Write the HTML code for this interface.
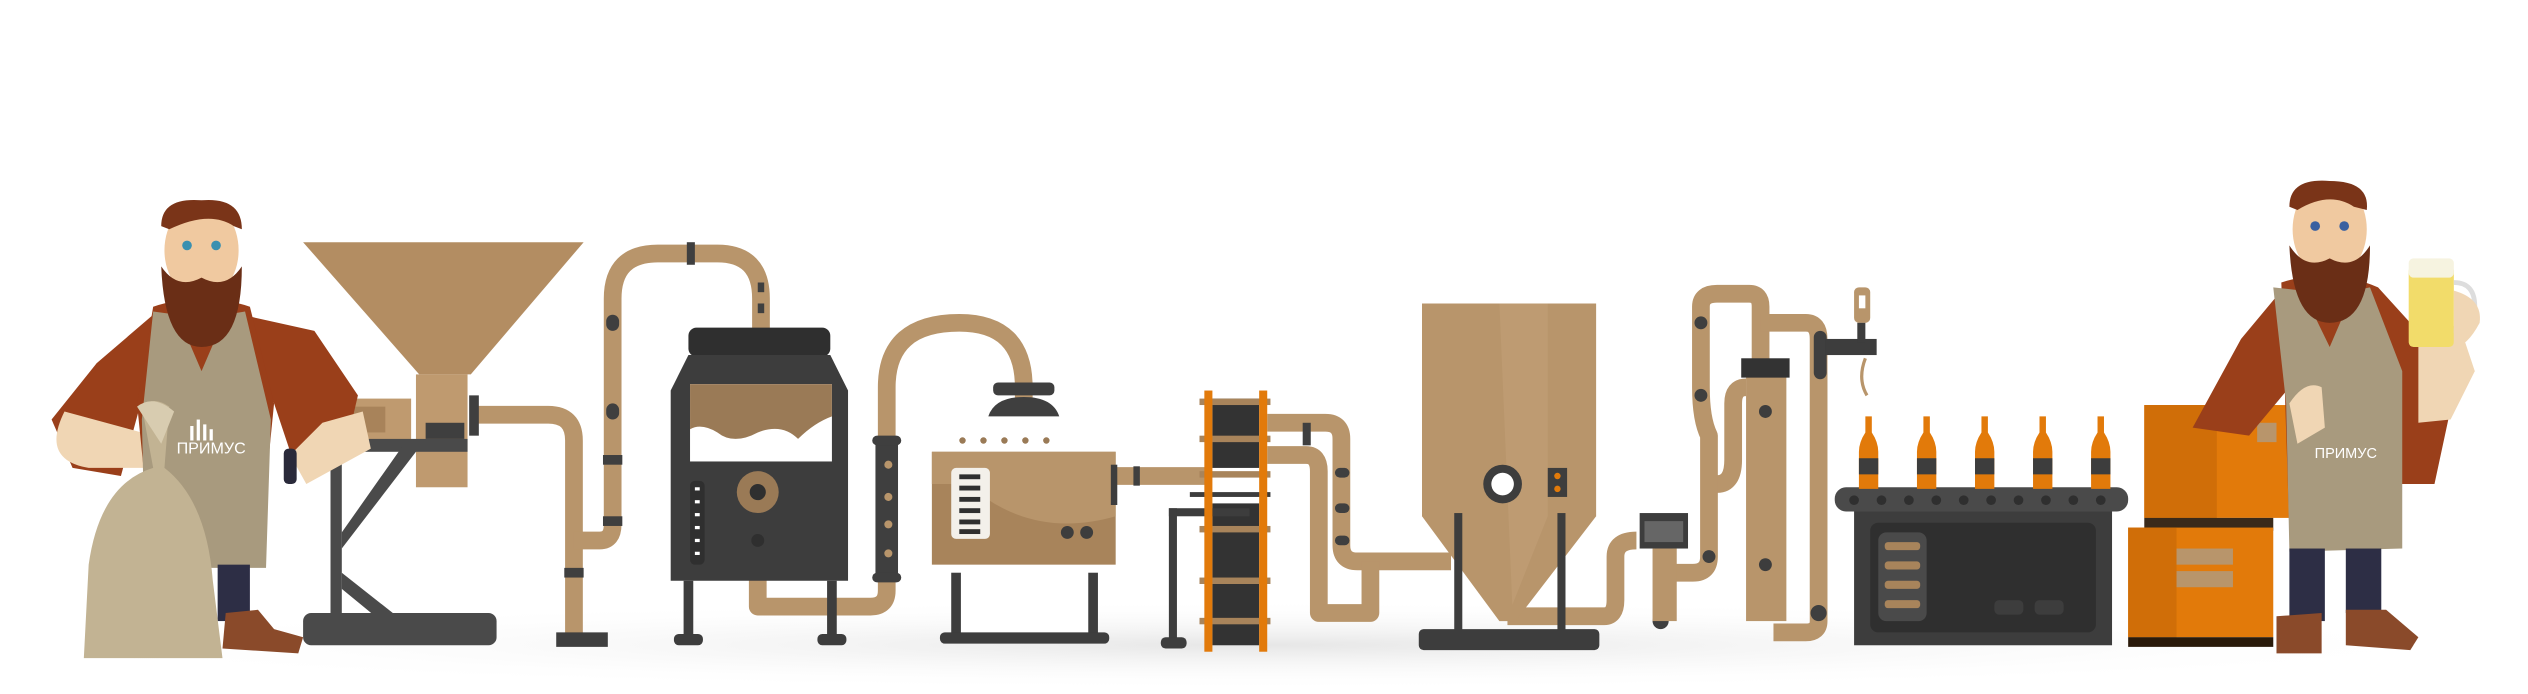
<!DOCTYPE html>
<html><head><meta charset="utf-8"><style>
html,body{margin:0;padding:0;background:#fff;width:2528px;height:694px;overflow:hidden}
svg{display:block}
</style></head><body>
<svg width="2528" height="694" viewBox="0 0 1568 430" xmlns="http://www.w3.org/2000/svg" font-family="Liberation Sans, DejaVu Sans, sans-serif">
<defs>
<radialGradient id="sh" cx="50%" cy="50%" r="50%"><stop offset="0" stop-color="#e6e6e6"/><stop offset="1" stop-color="#fff" stop-opacity="0"/></radialGradient>
</defs>
<ellipse cx="780" cy="400" rx="780" ry="28" fill="url(#sh)"/>
<g fill="none" stroke="#b8956b" stroke-width="11" stroke-linejoin="round">
<path d="M292 257 H340 Q356 257 356 273 V395"/>
<path d="M356 335 H372 Q380 335 380 325 V185 Q380 157 408 157 H445 Q472 157 472 185 V210"/>
<path d="M470 358 V376 H540 Q550 376 550 366 V240 Q550 200 595 200 Q635 200 635 240 V250"/>
<path d="M690 295 H748"/>
<path d="M786 262 H822 Q832 262 832 272 V338 Q832 348 842 348 H900"/>
<path d="M786 282 H810 Q818 282 818 292 V380 H850 V348"/>
<path d="M935 382 H995 Q1002 382 1002 372 V345 Q1002 335 1015 335"/>
<path d="M1032 340 V355 H1050 Q1060 355 1060 345 V270 Q1055 260 1055 240 V190 Q1055 182 1065 182 H1085 Q1092 182 1092 190 V225"/>
<path d="M1092 200 H1120 Q1128 200 1128 210 V385 Q1128 392 1120 392 H1100"/>
<path d="M1065 300 Q1075 300 1075 285 V250 Q1075 240 1083 240"/>
</g>
<g fill="#3f3f3f">
<rect x="426" y="150" width="5" height="14"/><rect x="376" y="195" width="8" height="10" rx="4"/><rect x="376" y="250" width="8" height="10" rx="4"/>
<rect x="374" y="282" width="12" height="6"/><rect x="374" y="320" width="12" height="6"/><rect x="350" y="352" width="12" height="6"/>
<rect x="470" y="175" width="4" height="6"/><rect x="470" y="188" width="4" height="6"/>
<rect x="345" y="392" width="32" height="9"/>
<rect x="616" y="237" width="38" height="8" rx="3"/><path d="M613 258 Q617 246 635 246 Q653 246 657 258 Z"/>
<rect x="543" y="275" width="14" height="82"/>
<rect x="541" y="270" width="18" height="6" rx="3"/><rect x="541" y="355" width="18" height="6" rx="3"/>
<rect x="703" y="289" width="4" height="12"/>
<rect x="828" y="290" width="9" height="6" rx="3"/><rect x="828" y="312" width="9" height="6" rx="3"/><rect x="828" y="332" width="9" height="6" rx="3"/>
<rect x="808" y="262" width="5" height="14"/>
<circle cx="1055" cy="200" r="4"/><circle cx="1055" cy="245" r="4"/><circle cx="1060" cy="345" r="4"/><circle cx="1092" cy="350" r="4"/><circle cx="1092" cy="255" r="4"/><circle cx="1128" cy="380" r="5"/><circle cx="1030" cy="385" r="5"/>
<rect x="1125" y="205" width="8" height="30" rx="4"/>
</g>
<g fill="#b8956b"><circle cx="551" cy="288" r="2.5"/><circle cx="551" cy="308" r="2.5"/><circle cx="551" cy="325" r="2.5"/><circle cx="551" cy="343" r="2.5"/></g>

<polygon points="188,150 362,150 292,232 260,232" fill="#b38d62"/>
<rect x="258" y="232" width="32" height="70" fill="#bf9a6f"/>
<rect x="205" y="247" width="50" height="26" fill="#bf9a6f"/><rect x="215" y="252" width="24" height="16" fill="#a8835a"/>
<rect x="291" y="245" width="6" height="25" fill="#3f3f3f"/>
<rect x="264" y="262" width="24" height="10" fill="#3f3f3f"/>
<g fill="#4a4a4a"><rect x="205" y="272" width="85" height="8"/><rect x="205" y="272" width="7" height="118"/>
<polygon points="212,330 250,276 258,280 212,340"/><polygon points="212,355 250,385 240,388 212,365"/>
<rect x="188" y="380" width="120" height="20" rx="5"/></g>

<rect x="427" y="203" width="88" height="18" rx="5" fill="#2f2f2f"/>
<path d="M427 220 H515 L526 242 V360 H416 V242 Z" fill="#3d3d3d"/>
<rect x="428" y="238" width="88" height="48" fill="#fff"/>
<path d="M428 238 H516 V258 Q505 262 495 272 Q485 262 470 268 Q455 276 445 268 Q435 262 428 266 Z" fill="#9a7a56"/>
<circle cx="470" cy="305" r="13" fill="#9a7a56"/><circle cx="470" cy="305" r="5" fill="#2f2f2f"/>
<circle cx="470" cy="335" r="4" fill="#2f2f2f"/>
<rect x="428" y="298" width="9" height="52" rx="3" fill="#2f2f2f"/>
<g fill="#fff"><rect x="431" y="302" width="3" height="2"/><rect x="431" y="310" width="3" height="2"/><rect x="431" y="318" width="3" height="2"/><rect x="431" y="326" width="3" height="2"/><rect x="431" y="334" width="3" height="2"/><rect x="431" y="342" width="3" height="2"/></g>
<g fill="#3d3d3d"><rect x="424" y="360" width="6" height="35"/><rect x="513" y="360" width="6" height="35"/><rect x="418" y="393" width="18" height="7" rx="3"/><rect x="507" y="393" width="18" height="7" rx="3"/></g>

<path d="M590 350 H680 V392 H590 Z" fill="#fff"/>
<rect x="578" y="280" width="114" height="70" fill="#a8845b"/>
<path d="M578 280 H692 V320 Q640 335 600 300 L578 300 Z" fill="#b8956b"/>
<rect x="590" y="290" width="24" height="44" rx="3" fill="#f3f0ea"/>
<g fill="#2f2f2f"><rect x="595" y="294" width="13" height="3"/><rect x="595" y="301" width="13" height="3"/><rect x="595" y="308" width="13" height="3"/><rect x="595" y="315" width="13" height="3"/><rect x="595" y="322" width="13" height="3"/><rect x="595" y="328" width="13" height="3"/></g>
<circle cx="662" cy="330" r="4" fill="#3d3d3d"/><circle cx="674" cy="330" r="4" fill="#3d3d3d"/>
<g fill="#9a7a56"><circle cx="597" cy="273" r="2"/><circle cx="610" cy="273" r="2"/><circle cx="623" cy="273" r="2"/><circle cx="636" cy="273" r="2"/><circle cx="649" cy="273" r="2"/></g>
<rect x="689" y="288" width="4" height="25" fill="#3d3d3d"/>
<g fill="#3d3d3d"><rect x="590" y="355" width="6" height="40"/><rect x="675" y="355" width="6" height="40"/><rect x="583" y="392" width="105" height="7" rx="3"/></g>

<rect x="752" y="247" width="29" height="43" fill="#333"/>
<rect x="752" y="312" width="29" height="88" fill="#333"/>
<g fill="#3d3d3d"><rect x="725" y="315" width="50" height="5"/><rect x="725" y="315" width="5" height="85"/><rect x="720" y="395" width="16" height="7" rx="3"/></g>
<rect x="738" y="305" width="50" height="3" fill="#3d3d3d"/>
<g fill="#a8845b"><rect x="744" y="247" width="44" height="4"/><rect x="744" y="270" width="44" height="4"/><rect x="744" y="292" width="44" height="4"/><rect x="744" y="326" width="44" height="4"/><rect x="744" y="358" width="44" height="4"/><rect x="744" y="383" width="44" height="4"/></g>
<rect x="747" y="242" width="5" height="162" fill="#e27a0a"/><rect x="781" y="242" width="5" height="162" fill="#e27a0a"/>

<path d="M882 188 H990 V320 L940 385 H930 L882 320 Z" fill="#b8956b"/>
<path d="M930 188 H960 V320 L938 375 Z" fill="#c4a27a" opacity=".5"/>
<circle cx="932" cy="300" r="12" fill="#3d3d3d"/><circle cx="932" cy="300" r="7" fill="#fff"/>
<rect x="960" y="290" width="12" height="18" fill="#3d3d3d"/><circle cx="966" cy="295" r="2" fill="#e27a0a"/><circle cx="966" cy="303" r="2" fill="#e27a0a"/>
<g fill="#3d3d3d"><rect x="902" y="318" width="5" height="75"/><rect x="966" y="318" width="5" height="75"/><rect x="880" y="390" width="112" height="13" rx="3"/></g>

<rect x="1017" y="318" width="30" height="22" fill="#3d3d3d"/><rect x="1020" y="323" width="24" height="13" fill="#666"/>
<rect x="1025" y="340" width="15" height="45" fill="#b8956b"/>
<rect x="1083" y="228" width="25" height="157" fill="#b8956b"/>
<rect x="1080" y="222" width="30" height="12" fill="#333"/>
<circle cx="1095" cy="255" r="4" fill="#3d3d3d"/><circle cx="1095" cy="350" r="4" fill="#3d3d3d"/>
<rect x="1150" y="178" width="10" height="22" rx="3" fill="#b8956b"/><rect x="1153" y="183" width="4" height="8" fill="#fff"/>
<rect x="1132" y="210" width="32" height="10" fill="#3d3d3d"/><rect x="1152" y="200" width="5" height="12" fill="#3d3d3d"/>
<path d="M1157 222 Q1152 235 1158 245" stroke="#b8956b" stroke-width="2" fill="none"/>

<rect x="1150" y="314" width="160" height="86" fill="#3d3d3d"/>
<rect x="1160" y="324" width="140" height="68" rx="5" fill="#2f2f2f"/>
<rect x="1165" y="330" width="30" height="55" rx="5" fill="#4a4a4a"/>
<g fill="#a8845b"><rect x="1169" y="336" width="22" height="5" rx="2"/><rect x="1169" y="348" width="22" height="5" rx="2"/><rect x="1169" y="360" width="22" height="5" rx="2"/><rect x="1169" y="372" width="22" height="5" rx="2"/></g>
<rect x="1237" y="372" width="18" height="9" rx="3" fill="#3d3d3d"/><rect x="1262" y="372" width="18" height="9" rx="3" fill="#3d3d3d"/>
<rect x="1138" y="302" width="182" height="15" rx="7" fill="#4a4a4a"/>
<g fill="#2f2f2f"><circle cx="1150" cy="310" r="3"/><circle cx="1167" cy="310" r="3"/><circle cx="1184" cy="310" r="3"/><circle cx="1201" cy="310" r="3"/><circle cx="1218" cy="310" r="3"/><circle cx="1235" cy="310" r="3"/><circle cx="1252" cy="310" r="3"/><circle cx="1269" cy="310" r="3"/><circle cx="1286" cy="310" r="3"/><circle cx="1303" cy="310" r="3"/></g>
<g fill="#e27a0a">
<path d="M1157 258 h4 v10 q4 6 4 12 v23 h-12 v-23 q0-6 4-12 Z"/>
<path d="M1157 258 h4 v10 q4 6 4 12 v23 h-12 v-23 q0-6 4-12 Z" transform="translate(36,0)"/>
<path d="M1157 258 h4 v10 q4 6 4 12 v23 h-12 v-23 q0-6 4-12 Z" transform="translate(72,0)"/>
<path d="M1157 258 h4 v10 q4 6 4 12 v23 h-12 v-23 q0-6 4-12 Z" transform="translate(108,0)"/>
<path d="M1157 258 h4 v10 q4 6 4 12 v23 h-12 v-23 q0-6 4-12 Z" transform="translate(144,0)"/>
</g>
<g fill="#3d3d3d"><rect x="1153" y="284" width="12" height="10"/><rect x="1189" y="284" width="12" height="10"/><rect x="1225" y="284" width="12" height="10"/><rect x="1261" y="284" width="12" height="10"/><rect x="1297" y="284" width="12" height="10"/></g>

<rect x="1330" y="251" width="90" height="70" fill="#e27a0a"/><rect x="1330" y="251" width="45" height="70" fill="#d06e08"/>
<rect x="1330" y="321" width="80" height="8" fill="#3a2a1a"/>
<rect x="1320" y="327" width="90" height="68" fill="#e27a0a"/><rect x="1320" y="327" width="30" height="68" fill="#d06e08"/>
<rect x="1320" y="395" width="90" height="6" fill="#2a1a0a"/>
<rect x="1350" y="340" width="35" height="10" fill="#b8956b"/><rect x="1350" y="354" width="35" height="10" fill="#b8956b"/>
<rect x="1400" y="262" width="12" height="12" fill="#b8956b"/>

<g>
<path d="M95 195 L60 225 L32 260 L45 290 L75 295 L90 240 Z" fill="#9a3f1a"/>
<path d="M40 255 Q25 285 55 290 L90 290 L95 270 Z" fill="#f0d6b4"/>
<path d="M150 195 L195 205 L222 245 L215 275 L180 280 L170 250 Z" fill="#9a3f1a"/>
<path d="M200 262 L225 255 L230 278 L190 300 L180 282 Z" fill="#f0d6b4"/>
<rect x="176" y="278" width="8" height="22" rx="3" fill="#2a2a3a"/>
<path d="M95 190 Q125 180 155 190 L170 250 L160 350 L95 350 L85 250 Z" fill="#9a3f1a"/>
<path d="M95 193 L110 195 L125 230 L140 195 L152 193 L168 260 L165 352 L90 352 L88 260 Z" fill="#a89a7e"/>
<rect x="108" y="350" width="20" height="40" fill="#2d2e45"/><rect x="135" y="350" width="20" height="35" fill="#2d2e45"/>
<path d="M140 380 L160 378 L170 390 L188 395 L185 405 L138 402 Z" fill="#8a4a2a"/>
<ellipse cx="125" cy="155" rx="23" ry="30" fill="#f0c9a0"/>
<path d="M100 140 Q100 122 125 124 Q150 122 150 142 L145 140 Q130 130 105 142 Z" fill="#7a3418"/>
<path d="M100 165 Q102 215 125 215 Q150 215 150 165 Q140 180 125 172 Q110 180 100 165 Z" fill="#6a2e16"/>
<circle cx="116" cy="152" r="3" fill="#3a90b0"/><circle cx="134" cy="152" r="3" fill="#3a90b0"/>
<path d="M88 252 Q95 245 105 252 L102 290 Q128 310 132 360 L138 408 L52 408 L55 350 Q62 300 95 290 Z" fill="#c2b393"/>
<path d="M85 252 Q95 244 108 255 L100 275 Z" fill="#d8ccb0"/>
<text x="131" y="281" font-size="10" fill="#fff" text-anchor="middle">ПРИМУС</text>
<g fill="#fff"><rect x="118" y="264" width="2" height="9"/><rect x="122" y="260" width="2" height="13"/><rect x="126" y="263" width="2" height="10"/><rect x="130" y="266" width="2" height="7"/></g>
</g>

<g>
<path d="M1415 180 L1390 210 L1360 265 L1395 270 L1420 240 Z" fill="#9a3f1a"/>
<path d="M1415 175 Q1445 165 1475 178 L1495 200 L1525 230 L1510 300 L1480 300 L1470 330 L1420 330 Z" fill="#9a3f1a"/>
<path d="M1500 215 L1525 200 L1535 230 L1520 260 L1500 262 Z" fill="#f0d6b4"/>
<path d="M1410 178 L1428 180 L1445 215 L1460 180 L1470 178 L1490 230 L1490 340 L1420 342 L1418 250 Z" fill="#a89a7e"/>
<path d="M1420 250 Q1430 235 1440 240 L1442 265 L1425 275 Z" fill="#f0d6b4"/>
<rect x="1420" y="340" width="22" height="45" fill="#2d2e45"/><rect x="1455" y="340" width="22" height="40" fill="#2d2e45"/>
<path d="M1412 382 L1440 380 L1440 405 L1412 405 Z" fill="#8a4a2a"/><path d="M1455 378 L1480 378 L1500 395 L1495 403 L1455 400 Z" fill="#8a4a2a"/>
<ellipse cx="1445" cy="142" rx="23" ry="30" fill="#f0c9a0"/>
<path d="M1420 128 Q1420 110 1445 112 Q1470 112 1468 130 L1460 128 Q1445 118 1425 130 Z" fill="#7a3418"/>
<path d="M1420 152 Q1422 200 1445 200 Q1470 200 1470 152 Q1460 168 1445 160 Q1430 168 1420 152 Z" fill="#6a2e16"/>
<circle cx="1436" cy="140" r="3" fill="#3a60a0"/><circle cx="1454" cy="140" r="3" fill="#3a60a0"/>
<rect x="1494" y="165" width="28" height="50" rx="3" fill="#f2dc6a"/><rect x="1494" y="160" width="28" height="12" rx="3" fill="#f6f3e0"/>
<path d="M1522 175 Q1535 175 1535 190 Q1535 205 1522 205" stroke="#ddd" stroke-width="3" fill="none"/>
<path d="M1522 180 Q1540 185 1538 200 Q1530 215 1522 215 Z" fill="#f0d6b4"/>
<text x="1455" y="284" font-size="9" fill="#fff" text-anchor="middle">ПРИМУС</text>
</g>
</svg>
</body></html>
